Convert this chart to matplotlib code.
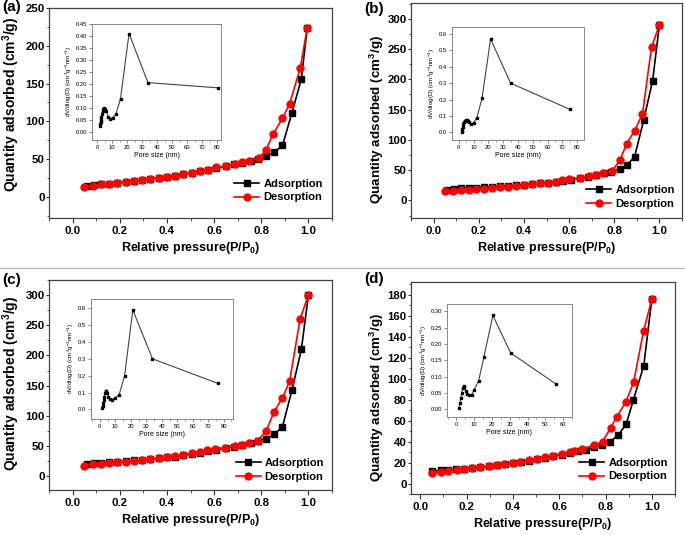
import matplotlib
matplotlib.use("Agg")
import matplotlib.pyplot as plt
from matplotlib.lines import Line2D
from matplotlib.ticker import MultipleLocator, FormatStrFormatter

plt.rcParams['font.family'] = ['Liberation Sans', 'DejaVu Sans']
plt.rcParams['mathtext.fontset'] = 'custom'
plt.rcParams['mathtext.rm'] = 'Liberation Sans'
plt.rcParams['mathtext.bf'] = 'Liberation Sans:bold'
plt.rcParams['mathtext.it'] = 'Liberation Sans:italic'
plt.rcParams['mathtext.default'] = 'rm'

# ---------------- data ----------------
# panel (a)
a_ads_x = [0.06, 0.09, 0.12, 0.155, 0.19, 0.225, 0.26, 0.295, 0.33, 0.365, 0.40, 0.435, 0.47, 0.505, 0.54, 0.575, 0.61, 0.65, 0.685, 0.72, 0.755, 0.785, 0.82, 0.855, 0.89, 0.93, 0.97, 0.995]
a_ads_y = [15, 15.5, 16.5, 17.5, 18.5, 20, 21, 22.5, 24, 25, 26.5, 28, 30, 32, 34, 36, 38.5, 40.5, 43, 45, 47.5, 50, 54, 59, 68, 111, 156, 224]
a_des_x = [0.995, 0.965, 0.92, 0.89, 0.85, 0.82, 0.79, 0.75, 0.72, 0.69, 0.65, 0.61, 0.575, 0.54, 0.505, 0.47, 0.435, 0.40, 0.365, 0.33, 0.295, 0.26, 0.225, 0.19, 0.155, 0.12, 0.085, 0.05]
a_des_y = [224, 170, 123, 104, 83, 62, 51, 48, 46, 44, 41, 39, 36, 34, 32, 30, 28, 26.5, 25, 24, 22.5, 21, 20, 18.5, 17.5, 16.5, 15, 13.5]
a_pore_x = [1.8, 2.0, 2.2, 2.5, 2.8, 3.2, 3.6, 4.1, 4.7, 5.3, 6.0, 7.2, 8.8, 10.2, 12.5, 15.5, 21.2, 33.8, 80.5]
a_pore_y = [0.025, 0.032, 0.040, 0.050, 0.062, 0.075, 0.086, 0.094, 0.097, 0.095, 0.086, 0.062, 0.054, 0.058, 0.074, 0.138, 0.41, 0.205, 0.183]

# panel (b)
b_ads_x = [0.06, 0.09, 0.12, 0.155, 0.19, 0.225, 0.26, 0.295, 0.33, 0.365, 0.40, 0.435, 0.47, 0.505, 0.54, 0.575, 0.61, 0.65, 0.685, 0.72, 0.755, 0.785, 0.825, 0.855, 0.89, 0.93, 0.97, 1.0]
b_ads_y = [18, 19, 20, 20.5, 21, 22, 22.5, 23.5, 24, 25, 26, 27, 28, 29, 30.5, 32, 34, 36.5, 39, 42, 44.5, 47, 52, 58, 72, 132, 198, 290]
b_des_x = [1.0, 0.965, 0.925, 0.89, 0.855, 0.825, 0.79, 0.75, 0.72, 0.69, 0.65, 0.60, 0.57, 0.54, 0.505, 0.47, 0.435, 0.40, 0.365, 0.33, 0.295, 0.26, 0.225, 0.19, 0.155, 0.12, 0.085, 0.05]
b_des_y = [290, 253, 143, 115, 94, 66, 49, 45, 42, 40, 37, 35, 33, 31, 29.5, 28, 26.5, 25, 23.5, 22.5, 21.5, 20.5, 19.5, 18.5, 17.5, 17, 16, 15]
b_pore_x = [2.0, 2.2, 2.5, 2.8, 3.2, 3.6, 4.1, 4.7, 5.4, 6.2, 7.2, 8.5, 10.0, 12.3, 15.8, 21.5, 35.0, 75.0]
b_pore_y = [0.0, 0.01, 0.022, 0.035, 0.048, 0.060, 0.068, 0.074, 0.076, 0.072, 0.060, 0.050, 0.058, 0.090, 0.21, 0.57, 0.30, 0.14]

# panel (c)
c_ads_x = [0.06, 0.09, 0.12, 0.155, 0.19, 0.225, 0.26, 0.295, 0.33, 0.365, 0.40, 0.435, 0.47, 0.505, 0.54, 0.575, 0.61, 0.65, 0.685, 0.72, 0.755, 0.785, 0.82, 0.855, 0.89, 0.93, 0.97, 1.0]
c_ads_y = [20, 21, 22, 23, 24, 25, 26, 27, 28, 29.5, 31, 32.5, 34.5, 36.5, 39, 41.5, 44, 46.5, 49, 52, 55, 59, 62, 69, 82, 142, 210, 300]
c_des_x = [1.0, 0.965, 0.92, 0.89, 0.855, 0.82, 0.785, 0.75, 0.72, 0.69, 0.645, 0.605, 0.57, 0.54, 0.505, 0.47, 0.435, 0.40, 0.365, 0.33, 0.295, 0.26, 0.225, 0.19, 0.155, 0.12, 0.085, 0.05]
c_des_y = [300, 261, 157, 130, 107, 74.5, 59, 55, 52, 50, 47, 45, 42.5, 40, 37.5, 35, 33, 31, 29.5, 28, 27, 25.5, 24, 23, 22, 20.5, 19.5, 17.5]
c_pore_x = [1.5, 1.8, 2.1, 2.5, 2.9, 3.3, 3.8, 4.3, 4.9, 5.6, 6.5, 7.8, 9.5, 12.5, 16.0, 21.3, 34.0, 76.0]
c_pore_y = [0.010, 0.020, 0.035, 0.055, 0.075, 0.095, 0.108, 0.110, 0.095, 0.075, 0.062, 0.058, 0.065, 0.088, 0.20, 0.59, 0.30, 0.155]

# panel (d)
d_ads_x = [0.05, 0.09, 0.12, 0.155, 0.19, 0.225, 0.26, 0.295, 0.33, 0.365, 0.40, 0.435, 0.47, 0.505, 0.54, 0.575, 0.61, 0.645, 0.68, 0.715, 0.75, 0.785, 0.82, 0.855, 0.89, 0.92, 0.965, 1.0]
d_ads_y = [11.8, 12.5, 13, 13.5, 14, 15, 15.5, 16.5, 17.5, 18.5, 19.5, 20.5, 21.5, 23, 24.5, 26, 27.5, 29, 30.5, 32, 34.5, 36.7, 40, 46, 57, 79.5, 112, 176]
d_des_x = [1.0, 0.964, 0.921, 0.888, 0.849, 0.823, 0.787, 0.75, 0.70, 0.665, 0.645, 0.61, 0.575, 0.54, 0.505, 0.47, 0.43, 0.40, 0.36, 0.33, 0.295, 0.26, 0.225, 0.19, 0.16, 0.12, 0.09, 0.05]
d_des_y = [176, 145, 96.3, 77.8, 63.8, 53.3, 39.9, 36.4, 33, 31, 30, 28.5, 26.5, 25, 23.5, 22, 20.5, 19.5, 18.5, 17.5, 16.5, 15.5, 15, 14, 13, 12, 11, 10.2]
d_pore_x = [1.5, 2.0, 2.5, 3.0, 3.5, 4.0, 4.5, 5.2, 6.0, 7.0, 8.5, 10.0, 12.5, 15.5, 20.5, 30.5, 56.0]
d_pore_y = [0.005, 0.02, 0.035, 0.05, 0.065, 0.072, 0.068, 0.055, 0.047, 0.043, 0.043, 0.060, 0.087, 0.161, 0.287, 0.172, 0.077]

W, H = 685, 535
fig = plt.figure(figsize=(W / 100, H / 100), dpi=100)

def px_axes(l, r, t, b):
    return fig.add_axes([l / W, 1 - b / H, (r - l) / W, (b - t) / H])

panels = [
    dict(label='(a)', box=(49, 332, 8, 218), xlim=(-0.1, 1.1), ylim=(-28, 250), ymaj=50,
         ads=(a_ads_x, a_ads_y), des=(a_des_x, a_des_y),
         ibox=(92, 221, 24, 140), ixlim=(-3.5, 82.5), iylim=(-0.035, 0.45), iymaj=0.05, ifmt='%.2f',
         pore=(a_pore_x, a_pore_y), lab=(2, 0.5), ylx=-0.097, yly=0.54, ylfs=10,
         leg=(0.968, 0.074)),
    dict(label='(b)', box=(411, 682, 3, 218), xlim=(-0.1, 1.1), ylim=(-29, 326), ymaj=50,
         ads=(b_ads_x, b_ads_y), des=(b_des_x, b_des_y),
         ibox=(452, 584, 27, 140), ixlim=(-4.5, 84.5), iylim=(-0.047, 0.643), iymaj=0.1, ifmt='%.1f',
         pore=(b_pore_x, b_pore_y), lab=(364, 2), ylx=-0.094, yly=0.456, ylfs=9.6,
         leg=(0.974, 0.044)),
    dict(label='(c)', box=(49, 332, 280, 490), xlim=(-0.1, 1.1), ylim=(-23, 325), ymaj=50,
         ads=(c_ads_x, c_ads_y), des=(c_des_x, c_des_y),
         ibox=(91, 233, 299, 419), ixlim=(-5.7, 86), iylim=(-0.057, 0.655), iymaj=0.1, ifmt='%.1f',
         pore=(c_pore_x, c_pore_y), lab=(2, 273), ylx=-0.095, yly=0.51, ylfs=10,
         leg=(0.972, 0.04)),
    dict(label='(d)', box=(411, 675, 282, 494), xlim=(-0.04, 1.1), ylim=(-10, 192), ymaj=20,
         ads=(d_ads_x, d_ads_y), des=(d_des_x, d_des_y),
         ibox=(447, 572, 304, 417), ixlim=(-5.3, 65), iylim=(-0.024, 0.322), iymaj=0.05, ifmt='%.2f',
         pore=(d_pore_x, d_pore_y), lab=(364, 272), ylx=-0.093, yly=0.457, ylfs=9.6,
         leg=(0.973, 0.059)),
]

for p in panels:
    ax = px_axes(*p['box'])
    ax.plot(*p['ads'], color='black', marker='s', ms=4, lw=1.2, label='Adsorption')
    ax.plot(*p['des'], color='red', marker='o', ms=5, lw=1.2, label='Desorption')
    ax.set_xlim(*p['xlim'])
    ax.set_ylim(*p['ylim'])
    ax.xaxis.set_major_locator(MultipleLocator(0.2))
    ax.xaxis.set_minor_locator(MultipleLocator(0.1))
    ax.xaxis.set_major_formatter(FormatStrFormatter('%.1f'))
    ax.yaxis.set_major_locator(MultipleLocator(p['ymaj']))
    ax.yaxis.set_minor_locator(MultipleLocator(p['ymaj'] / 2))
    ax.tick_params(which='both', direction='out', top=False, right=False, color='#333333')
    ax.tick_params(axis='x', which='major', length=3.5, width=0.8, labelsize=8.2, pad=2.5)
    ax.tick_params(axis='x', which='minor', length=2, width=0.6)
    ax.tick_params(axis='y', which='major', length=2, width=0.8, labelsize=8.2, pad=1)
    ax.tick_params(axis='y', which='minor', length=1.2, width=0.6)
    for lbl in ax.get_xticklabels() + ax.get_yticklabels():
        lbl.set_fontweight('bold')
    for s in ax.spines.values():
        s.set_color('#444444')
        s.set_linewidth(0.9)
    ax.set_xlabel(r'Relative pressure(P/P$_{\mathbf{0}}$)', fontsize=9, fontweight='bold', labelpad=2.5)
    ax.set_ylabel(r'Quantity adsorbed (cm$^{\mathbf{3}}$/g)', fontsize=p['ylfs'], fontweight='bold')
    ax.yaxis.set_label_coords(p['ylx'], p['yly'])
    ax.legend(loc='lower right', bbox_to_anchor=p['leg'], frameon=False,
              prop={'weight': 'bold', 'size': 8}, handlelength=2.25,
              handletextpad=0.36, labelspacing=0.3, borderaxespad=0, borderpad=0)
    fig.text(p['lab'][0] / W, 1 - p['lab'][1] / H, p['label'], fontsize=11,
             fontweight='bold', ha='left', va='top')

    ia = px_axes(*p['ibox'])
    ia.plot(*p['pore'], color='#444444', marker='s', ms=1.8, lw=0.8,
            markerfacecolor='black', markeredgecolor='black')
    ia.set_xlim(*p['ixlim'])
    ia.set_ylim(*p['iylim'])
    ia.xaxis.set_major_locator(MultipleLocator(10))
    ia.xaxis.set_minor_locator(MultipleLocator(5))
    ia.yaxis.set_major_locator(MultipleLocator(p['iymaj']))
    ia.yaxis.set_major_formatter(FormatStrFormatter(p['ifmt']))
    ia.tick_params(which='both', direction='out', top=False, right=False, labelsize=4.2,
                   pad=1.5, color='#555555')
    ia.tick_params(which='major', length=2, width=0.5)
    ia.tick_params(which='minor', length=1.2, width=0.4)
    for s in ia.spines.values():
        s.set_color('#888888')
        s.set_linewidth(0.7)
    ia.set_xlabel('Pore size (nm)', fontsize=5, labelpad=1.5)
    ia.set_ylabel(r'dV/dlog(D) (cm$^3$g$^{-1}$nm$^{-1}$)', fontsize=4.5, labelpad=1.5)

fig.add_artist(Line2D([0, 1], [1 - 267.5 / H, 1 - 267.5 / H], transform=fig.transFigure,
                      color='#bbbbbb', lw=1.0))

fig.savefig('out.png', dpi=100)
